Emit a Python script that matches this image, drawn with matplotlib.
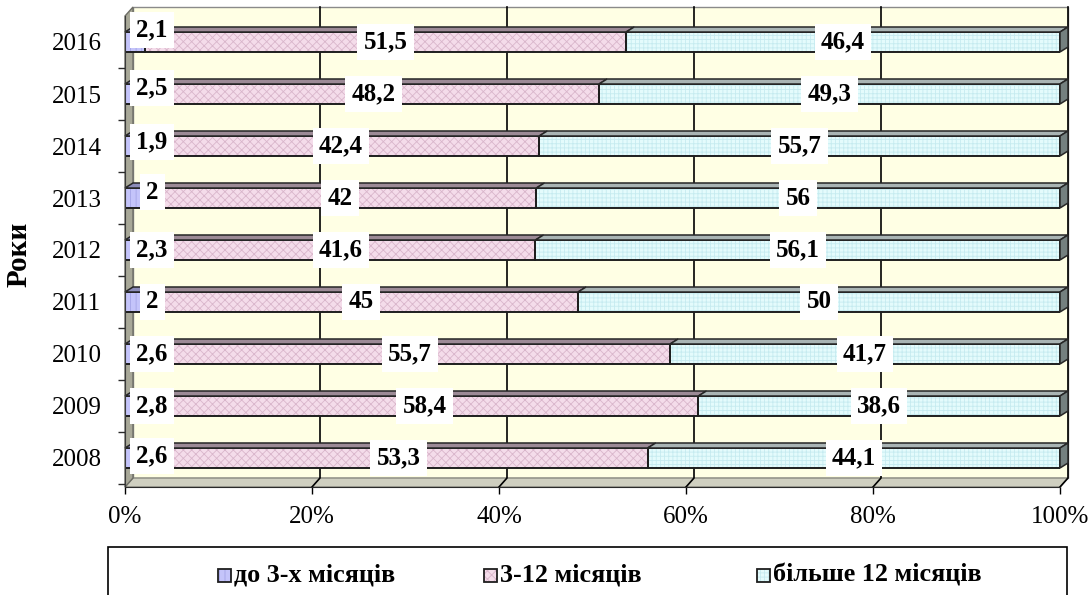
import matplotlib
matplotlib.use("Agg")
import matplotlib.pyplot as plt
from matplotlib.patches import Polygon, Rectangle
from matplotlib.transforms import IdentityTransform

# ---- data -------------------------------------------------------------
years = ["2008", "2009", "2010", "2011", "2012", "2013", "2014", "2015", "2016"]
upto_3m = [2.6, 2.8, 2.6, 2, 2.3, 2, 1.9, 2.5, 2.1]
from_3_to_12m = [53.3, 58.4, 55.7, 45, 41.6, 42, 42.4, 48.2, 51.5]
over_12m = [44.1, 38.6, 41.7, 50, 56.1, 56, 55.7, 49.3, 46.4]
series_names = ["до 3-х місяців", "3-12 місяців", "більше 12 місяців"]
x_ticks = [0, 20, 40, 60, 80, 100]
x_tick_labels = ["0%", "20%", "40%", "60%", "80%", "100%"]
y_title = "Роки"

# ---- style ------------------------------------------------------------
plt.rcParams["font.family"] = ["Liberation Serif", "DejaVu Serif"]
plt.rcParams["hatch.linewidth"] = 0.6

front_cols = ["#C4C4FA", "#F4DCEA", "#E4FBFC"]
hatch_cols = ["#A4A4E6", "#D9B6CB", "#C6EBF0"]
hatches = ["|||", "xxxx", "++++"]
top_cols = ["#8C8CB8", "#9C8A96", "#A9B4B4"]
side_col = "#74807F"

W, H, DPI = 1090, 595, 100
fig = plt.figure(figsize=(W / DPI, H / DPI), dpi=DPI)
fig.patch.set_facecolor("white")

# front plane of the plot box (pixels measured from the top-left corner)
left_px, right_px, top_px, bottom_px = 125, 1060, 16, 487
ax = fig.add_axes([left_px / W, 1 - bottom_px / H,
                   (right_px - left_px) / W, (bottom_px - top_px) / H])
rows = list(range(len(years)))
row_px = 52.0
y_lo = -(bottom_px - 458) / row_px
y_hi = 8 + (42 - top_px) / row_px
ax.set_xlim(0, 100)
ax.set_ylim(y_lo, y_hi)
ax.set_autoscale_on(False)
ax.patch.set_visible(False)

wall_depth = (8, 9)   # pixel offset of the back wall
bar_depth = (8, 5)    # pixel offset of the bar top/side faces


def disp(x, y, depth=(0, 0)):
    px, py = ax.transData.transform((x, y))
    return (px + depth[0], py + depth[1])


def poly(verts, zorder, **kw):
    p = Polygon(verts, closed=True, transform=IdentityTransform(),
                clip_on=False, zorder=zorder, **kw)
    ax.add_patch(p)
    return p


# back wall
poly([disp(0, y_lo, wall_depth), disp(100, y_lo, wall_depth),
      disp(100, y_hi, wall_depth), disp(0, y_hi, wall_depth)],
     0.1, facecolor="#FFFFE4", edgecolor="#8A8A8A", linewidth=1.0)
# floor
poly([disp(0, y_lo), disp(100, y_lo),
      disp(100, y_lo, wall_depth), disp(0, y_lo, wall_depth)],
     0.2, facecolor="#CFCFC0", edgecolor="#8A8A80", linewidth=1.0)
# left wall
poly([disp(0, y_lo), disp(0, y_hi),
      disp(0, y_hi, wall_depth), disp(0, y_lo, wall_depth)],
     0.2, facecolor="#A8A898", edgecolor="#6E6E66", linewidth=1.0)

# gridlines on the back wall, bending down across the floor
for xv in x_ticks[1:]:
    pts = [disp(xv, y_lo), disp(xv, y_lo, wall_depth), disp(xv, y_hi, wall_depth)]
    ax.plot([p[0] for p in pts], [p[1] for p in pts], color="black",
            linewidth=1.2, transform=IdentityTransform(), clip_on=False, zorder=0.3)

# ---- stacked bars -----------------------------------------------------
series = [upto_3m, from_3_to_12m, over_12m]
totals = [sum(v) for v in zip(*series)]
shares = [[v / t * 100 for v, t in zip(s, totals)] for s in series]
bar_h = 20 / row_px

lefts = [0.0] * len(years)
bar_sets = []
for i, sh in enumerate(shares):
    ax.barh(rows, sh, left=lefts, height=bar_h, color=front_cols[i],
            hatch=hatches[i], edgecolor=hatch_cols[i], linewidth=0, zorder=2)
    outl = ax.barh(rows, sh, left=lefts, height=bar_h, fill=False,
                   edgecolor="#1E1E1E", linewidth=1.4, zorder=2.1)
    bar_sets.append(outl)
    lefts = [l + s for l, s in zip(lefts, sh)]

for i, bars in enumerate(bar_sets):
    for r, b in enumerate(bars):
        x0, y0 = b.get_x(), b.get_y()
        x1, y1 = x0 + b.get_width(), y0 + b.get_height()
        poly([disp(x0, y1), disp(x1, y1), disp(x1, y1, bar_depth), disp(x0, y1, bar_depth)],
             2.2, facecolor=top_cols[i], edgecolor="#262626", linewidth=1.1)
        if i == len(bar_sets) - 1:
            poly([disp(x1, y0), disp(x1, y1), disp(x1, y1, bar_depth), disp(x1, y0, bar_depth)],
                 2.2, facecolor=side_col, edgecolor="#262626", linewidth=1.1)


def fmt(v):
    return f"{v:g}".replace(".", ",")


label_box = dict(boxstyle="square,pad=0.25", facecolor="white", edgecolor="none")
label_kw = dict(fontsize=18, fontweight="bold", va="center", ha="center",
                bbox=label_box, zorder=5)
first_label_lift = [2, 0, 0, 0, 0, 6, 4, 6, 12]  # px shift of the small-share labels
for r in rows:
    ax.annotate(fmt(upto_3m[r]), (2.9, r), xytext=(0, first_label_lift[r] * 0.72),
                textcoords="offset points", **label_kw)
    b2 = bar_sets[1][r]
    ax.text(b2.get_x() + b2.get_width() / 2, r, fmt(from_3_to_12m[r]), **label_kw)
    b3 = bar_sets[2][r]
    ax.text(b3.get_x() + b3.get_width() / 2, r, fmt(over_12m[r]), **label_kw)

# ---- axes -------------------------------------------------------------
for side in ("top", "right"):
    ax.spines[side].set_visible(False)
ax.spines["left"].set_color("#3A3A3A")
ax.spines["bottom"].set_color("#2A2A2A")
ax.spines["left"].set_zorder(2.5)
ax.spines["bottom"].set_zorder(2.5)

ax.set_xticks(x_ticks, x_tick_labels)
ax.tick_params(axis="x", length=5, width=1, pad=9, labelsize=18, colors="black")
ax.set_yticks(rows, years)
ax.set_yticks([r + 0.5 for r in rows[:-1]] + [-0.5], minor=True)
ax.tick_params(axis="y", which="major", length=0, pad=17, labelsize=18)
ax.tick_params(axis="y", which="minor", length=5, width=1, color="#2A2A2A")

ax.set_ylabel(y_title, fontsize=21, fontweight="bold")
ax.yaxis.set_label_coords(-0.099, 0.494)

# ---- legend -----------------------------------------------------------
lg_left, lg_right, lg_top = 108, 1067, 547
fig.patches.append(Rectangle((lg_left / W, -0.05), (lg_right - lg_left) / W,
                             (H - lg_top) / H + 0.05, transform=fig.transFigure,
                             facecolor="white", edgecolor="black", linewidth=1.2))
item_x = [218, 484, 757]
ly = 575
for i, name in enumerate(series_names):
    sq = 13
    fig.patches.append(Rectangle((item_x[i] / W, 1 - (ly + sq / 2) / H), sq / W, sq / H,
                                 transform=fig.transFigure, facecolor=front_cols[i],
                                 hatch=hatches[i], edgecolor=hatch_cols[i], linewidth=0))
    fig.patches.append(Rectangle((item_x[i] / W, 1 - (ly + sq / 2) / H), sq / W, sq / H,
                                 transform=fig.transFigure, fill=False,
                                 edgecolor="#1E1E1E", linewidth=1.3))
    fig.text((item_x[i] + sq + 3) / W, 1 - ly / H, name, fontsize=18.8,
             fontweight="bold", va="center", ha="left")

fig.savefig("out.png", dpi=DPI)
